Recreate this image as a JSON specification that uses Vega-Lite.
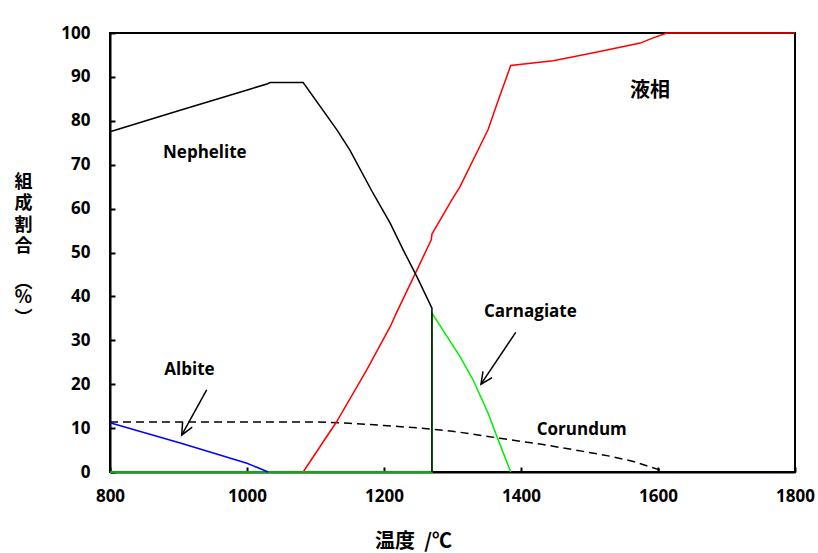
{
  "$schema": "https://vega.github.io/schema/vega-lite/v6.json",
  "autosize": {"type": "none"},
  "width": 685,
  "height": 439,
  "padding": {"left": 110, "top": 33, "right": 23, "bottom": 81},
  "background": "white",
  "config": {
    "view": {"stroke": "black", "strokeWidth": 2},
    "axis": {
      "grid": false,
      "domainColor": "black",
      "domainWidth": 2,
      "tickColor": "black",
      "tickWidth": 2,
      "tickSize": -5,
      "labelFont": "Open Sans",
      "labelFontWeight": "bold",
      "labelFontSize": 17,
      "labelColor": "black",
      "titleColor": "black",
      "titleFont": "Noto Sans CJK JP",
      "titleFontWeight": "bold"
    }
  },
  "datasets": {
    "curves": [
      {"s": "Liquid", "i": 0, "t": 1082, "v": 0},
      {"s": "Liquid", "i": 1, "t": 1131, "v": 11.5},
      {"s": "Liquid", "i": 2, "t": 1175, "v": 23.3},
      {"s": "Liquid", "i": 3, "t": 1209, "v": 33.1},
      {"s": "Liquid", "i": 4, "t": 1218, "v": 36.2},
      {"s": "Liquid", "i": 5, "t": 1248, "v": 46.0},
      {"s": "Liquid", "i": 6, "t": 1269, "v": 52.9},
      {"s": "Liquid", "i": 7, "t": 1270, "v": 54.2},
      {"s": "Liquid", "i": 8, "t": 1299, "v": 62.0},
      {"s": "Liquid", "i": 9, "t": 1311, "v": 65.0},
      {"s": "Liquid", "i": 10, "t": 1352, "v": 78.0},
      {"s": "Liquid", "i": 11, "t": 1365, "v": 83.9},
      {"s": "Liquid", "i": 12, "t": 1385, "v": 92.6},
      {"s": "Liquid", "i": 13, "t": 1447, "v": 93.7},
      {"s": "Liquid", "i": 14, "t": 1515, "v": 95.8},
      {"s": "Liquid", "i": 15, "t": 1574, "v": 97.7},
      {"s": "Liquid", "i": 16, "t": 1593, "v": 98.9},
      {"s": "Liquid", "i": 17, "t": 1613, "v": 100},
      {"s": "Liquid", "i": 18, "t": 1800, "v": 100},
      {"s": "Carnagiate", "i": 0, "t": 800, "v": 0},
      {"s": "Carnagiate", "i": 1, "t": 1270, "v": 0},
      {"s": "Carnagiate", "i": 2, "t": 1270, "v": 36.2},
      {"s": "Carnagiate", "i": 3, "t": 1311, "v": 26.3},
      {"s": "Carnagiate", "i": 4, "t": 1330, "v": 21.0},
      {"s": "Carnagiate", "i": 5, "t": 1352, "v": 13.4},
      {"s": "Carnagiate", "i": 6, "t": 1365, "v": 8.0},
      {"s": "Carnagiate", "i": 7, "t": 1385, "v": 0},
      {"s": "Albite", "i": 0, "t": 800, "v": 11.2},
      {"s": "Albite", "i": 1, "t": 905, "v": 6.5},
      {"s": "Albite", "i": 2, "t": 1000, "v": 2.0},
      {"s": "Albite", "i": 3, "t": 1031, "v": 0}
    ],
    "nephelite": [
      {"i": 0, "t": 800, "v": 77.5},
      {"i": 1, "t": 900, "v": 82.3},
      {"i": 2, "t": 1004, "v": 87.2},
      {"i": 3, "t": 1029, "v": 88.4},
      {"i": 4, "t": 1034, "v": 88.7},
      {"i": 5, "t": 1082, "v": 88.7},
      {"i": 6, "t": 1131, "v": 78.0},
      {"i": 7, "t": 1150, "v": 73.4},
      {"i": 8, "t": 1184, "v": 63.5},
      {"i": 9, "t": 1209, "v": 56.7},
      {"i": 10, "t": 1228, "v": 50.6},
      {"i": 11, "t": 1248, "v": 44.5},
      {"i": 12, "t": 1270, "v": 37.3},
      {"i": 13, "t": 1270, "v": 0}
    ],
    "corundum": [
      {"i": 0, "t": 800, "v": 11.4},
      {"i": 1, "t": 1100, "v": 11.4},
      {"i": 2, "t": 1150, "v": 11.1},
      {"i": 3, "t": 1200, "v": 10.6},
      {"i": 4, "t": 1253, "v": 10.0},
      {"i": 5, "t": 1300, "v": 9.3},
      {"i": 6, "t": 1369, "v": 7.7},
      {"i": 7, "t": 1430, "v": 6.3},
      {"i": 8, "t": 1491, "v": 4.7},
      {"i": 9, "t": 1530, "v": 3.6},
      {"i": 10, "t": 1564, "v": 2.4},
      {"i": 11, "t": 1600, "v": 0.6},
      {"i": 12, "t": 1610, "v": 0}
    ],
    "arrows": [
      {"seg": "a1", "i": 0, "t": 941.1, "v": 18.7},
      {"seg": "a1", "i": 1, "t": 904.7, "v": 8.4},
      {"seg": "a2", "i": 0, "t": 920.0, "v": 10.2},
      {"seg": "a2", "i": 1, "t": 904.7, "v": 8.4},
      {"seg": "a2", "i": 2, "t": 906.0, "v": 11.4},
      {"seg": "c1", "i": 0, "t": 1392.3, "v": 31.8},
      {"seg": "c1", "i": 1, "t": 1341.6, "v": 20.0},
      {"seg": "c2", "i": 0, "t": 1357.8, "v": 21.5},
      {"seg": "c2", "i": 1, "t": 1341.6, "v": 20.0},
      {"seg": "c2", "i": 2, "t": 1344.5, "v": 22.9}
    ],
    "labels": [
      {"label": "Nephelite", "t": 877.4, "v": 72.7},
      {"label": "Albite", "t": 879.3, "v": 23.3},
      {"label": "Carnagiate", "t": 1346, "v": 36.4},
      {"label": "Corundum", "t": 1423, "v": 9.6}
    ],
    "jlabels": [
      {"label": "液相", "t": 1559, "v": 86.7}
    ]
  },
  "layer": [
    {
      "data": {"name": "corundum"},
      "mark": {"type": "line", "color": "black", "strokeWidth": 1.5, "strokeDash": [8, 5]},
      "encoding": {
        "x": {"field": "t", "type": "quantitative", "scale": {"domain": [800, 1800]},
          "axis": {"values": [800, 1000, 1200, 1400, 1600, 1800], "format": "d", "labelPadding": 21, "labelFlush": false,
            "title": "温度\u00a0\u00a0/℃", "titleFontSize": 20, "titleX": 303, "titleY": 69, "titleBaseline": "middle", "titleAlign": "center"}},
        "y": {"field": "v", "type": "quantitative", "scale": {"domain": [0, 100]},
          "axis": {"values": [0, 10, 20, 30, 40, 50, 60, 70, 80, 90, 100], "labelPadding": 25,
            "title": ["組", "\u200b", "\u200b", "成", "\u200b", "\u200b", "割", "\u200b", "\u200b", "合", "\u200b", "\u200b", "\u200b", "\u200b", "︵", "\u200b", "%", "\u200b", "\u200b", "︶"],
            "titleFontSize": 18, "titleLineHeight": 7.2, "titleAngle": 0, "titleAlign": "center", "titleBaseline": "top",
            "titleX": -87, "titleY": 140}},
        "order": {"field": "i", "type": "quantitative"}
      }
    },
    {
      "data": {"name": "curves"},
      "mark": {"type": "line", "strokeWidth": 1.5},
      "encoding": {
        "x": {"field": "t", "type": "quantitative"},
        "y": {"field": "v", "type": "quantitative"},
        "color": {"field": "s", "type": "nominal", "legend": null,
          "scale": {"domain": ["Albite", "Carnagiate", "Liquid"], "range": ["#0000ff", "#00ee00", "#ff0000"]}},
        "order": {"field": "i", "type": "quantitative"}
      }
    },
    {
      "data": {"name": "nephelite"},
      "mark": {"type": "line", "strokeWidth": 1.5, "color": "black"},
      "encoding": {
        "x": {"field": "t", "type": "quantitative"},
        "y": {"field": "v", "type": "quantitative"},
        "order": {"field": "i", "type": "quantitative"}
      }
    },
    {
      "data": {"name": "arrows"},
      "mark": {"type": "line", "color": "black", "strokeWidth": 1.5},
      "encoding": {
        "x": {"field": "t", "type": "quantitative"},
        "y": {"field": "v", "type": "quantitative"},
        "detail": {"field": "seg", "type": "nominal"},
        "order": {"field": "i", "type": "quantitative"}
      }
    },
    {
      "data": {"name": "labels"},
      "mark": {"type": "text", "align": "left", "baseline": "middle", "font": "Open Sans", "fontWeight": "bold", "fontSize": 17, "color": "black"},
      "encoding": {
        "x": {"field": "t", "type": "quantitative"},
        "y": {"field": "v", "type": "quantitative"},
        "text": {"field": "label"}
      }
    },
    {
      "data": {"name": "jlabels"},
      "mark": {"type": "text", "align": "left", "baseline": "middle", "font": "Noto Sans CJK JP", "fontWeight": "bold", "fontSize": 20, "color": "black"},
      "encoding": {
        "x": {"field": "t", "type": "quantitative"},
        "y": {"field": "v", "type": "quantitative"},
        "text": {"field": "label"}
      }
    }
  ]
}
